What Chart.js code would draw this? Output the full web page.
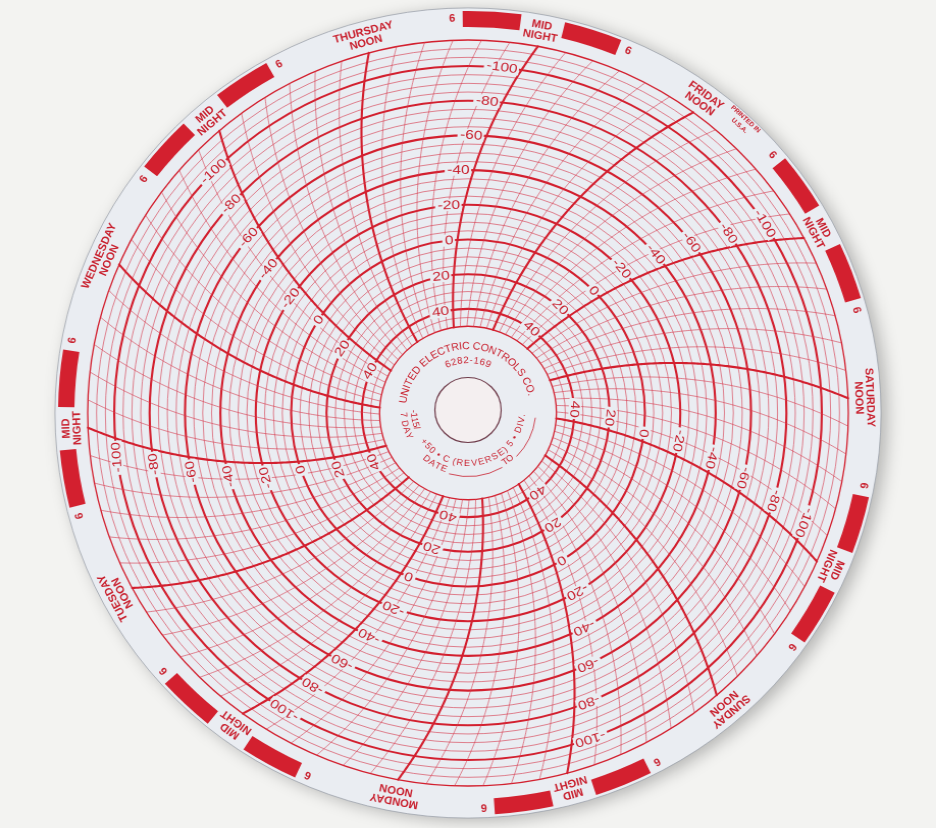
<!DOCTYPE html>
<html>
<head>
<meta charset="utf-8">
<title>UEC 7-day circular chart</title>
<script src="https://cdn.jsdelivr.net/npm/chart.js@4.4.1/dist/chart.umd.min.js"></script>
<style>
html,body{margin:0;padding:0;background:#f3f3f1;overflow:hidden;}
#chart{display:block;width:936px;height:828px;}
</style>
</head>
<body>
<canvas id="chart" width="918" height="828" style="width:936px;height:828px"></canvas>
<script>
// ---------------- data ----------------
const dayNames = ['FRIDAY', 'SATURDAY', 'SUNDAY', 'MONDAY', 'TUESDAY', 'WEDNESDAY', 'THURSDAY'];
const hoursOfDay = [0, 2, 4, 6, 8, 10, 12, 14, 16, 18, 20, 22];
const rimHourLabels = { 0: ['MID', 'NIGHT'], 6: ['6'], 12: ['NOON'], 18: ['6'] };
const boldHours = [0, 12];
const labelHour = 0;               // temperature labels run along the midnight lines
const nightHours = [18, 0, 6];     // red night band: 6 pm -> midnight -> 6 am
const tempMin = -115;
const tempMax = 50;
const tempStep = 5;
const tempMajorStep = 20;
const tempLabels = [-100, -80, -60, -40, -20, 0, 20, 40];
const hubSpan = 50;                // blank hub inside +50, in scale units
const hubTitle = 'UNITED ELECTRIC CONTROLS CO.';
const hubCode = '6282-169';
const hubRangeA = '-115/';
const hubRangeB = '+50 \u2022 C (REVERSE) 5 \u2022 DIV.';
const hubDays = '7 DAY';
const hubDate = 'DATE';
const hubTo = 'TO';
const printNote = ['PRINTED IN', 'U.S.A.'];

const timeLabels = dayNames.flatMap(d => hoursOfDay.map(h => d + ' ' + String(h).padStart(2, '0') + ':00'));

// ---------------- style ----------------
const RED = '#d3202f';
const RED_THIN = 'rgba(214, 58, 78, 0.62)';
const INK = '#c9202e';
const DISC = '#eaedf2';
const PAGE = '#f3f3f1';
const FONT = '"Liberation Sans", Arial, sans-serif';
const penRatio = 1.156;            // pen-arm pivot distance / chart radius
const D2R = Math.PI / 180;

function penOffset(scale, r) {
  const d2 = 2 * penRatio * scale.drawingArea;
  return Math.acos(scale.drawingArea / d2) - Math.acos(Math.min(1, r / d2));
}

function arcText(ctx, cx, cy, text, r, a0, a1, flip) {
  const chars = [...text];
  const ws = chars.map(ch => ctx.measureText(ch).width);
  const W = ws.reduce((a, b) => a + b, 0);
  let acc = 0;
  chars.forEach((ch, k) => {
    const t = (acc + ws[k] / 2) / W;
    acc += ws[k];
    const a = (a0 + (a1 - a0) * t) * D2R;
    ctx.save();
    ctx.translate(cx, cy);
    ctx.rotate(a);
    ctx.translate(0, -r);
    if (flip) ctx.rotate(Math.PI);
    ctx.fillText(ch, 0, 0);
    ctx.restore();
  });
}

const dialPlugin = {
  id: 'dial',
  beforeDraw(chart) {
    const ctx = chart.ctx, s = chart.scales.r;
    const cx = s.xCenter, cy = s.yCenter, R = s.drawingArea;
    const n = timeLabels.length, step = 2 * Math.PI / n;
    ctx.save();
    ctx.fillStyle = PAGE;
    ctx.fillRect(0, 0, chart.width, chart.height);
    // paper disc
    ctx.shadowColor = 'rgba(0,0,0,0.26)';
    ctx.shadowBlur = 16;
    ctx.shadowOffsetX = 6;
    ctx.shadowOffsetY = 3;
    ctx.beginPath();
    ctx.arc(cx, cy, R * 1.086, 0, 2 * Math.PI);
    ctx.fillStyle = DISC;
    ctx.fill();
    ctx.shadowColor = 'rgba(0,0,0,0)';
    ctx.lineWidth = 1;
    ctx.strokeStyle = 'rgba(150,155,165,0.7)';
    ctx.stroke();

    // night bands
    const perHour = step / (hoursOfDay[1] - hoursOfDay[0]);
    const gapSix = 1.5 * D2R, gapMid = 3.1 * D2R;
    const rOut = R * 1.078, rIn = R * 1.035;
    ctx.fillStyle = RED;
    for (let i = 0; i < n; i++) {
      if (hoursOfDay[i % hoursOfDay.length] !== nightHours[1]) continue;
      const aMid = s.getIndexAngle(i) - Math.PI / 2;
      const aStart = aMid - (24 - nightHours[0]) * perHour;
      const aEnd = aMid + nightHours[2] * perHour;
      [[aStart + gapSix, aMid - gapMid], [aMid + gapMid, aEnd - gapSix]].forEach(([a1, a2]) => {
        ctx.beginPath();
        ctx.arc(cx, cy, rOut, a1, a2);
        ctx.arc(cx, cy, rIn, a2, a1, true);
        ctx.closePath();
        ctx.fill();
      });
    }

    // rim labels
    ctx.fillStyle = INK;
    ctx.textAlign = 'center';
    ctx.textBaseline = 'middle';
    ctx.font = 'bold 11px ' + FONT;
    for (let i = 0; i < n; i++) {
      const hour = hoursOfDay[i % hoursOfDay.length];
      if (!rimHourLabels[hour]) continue;
      let lines = rimHourLabels[hour];
      if (hour === 12) lines = [dayNames[Math.floor(i / hoursOfDay.length)], 'NOON'];
      ctx.save();
      ctx.translate(cx, cy);
      ctx.rotate(s.getIndexAngle(i));
      if (lines.length === 2) {
        ctx.fillText(lines[0], 0, -R * 1.057);
        ctx.fillText(lines[1], 0, -R * 1.028);
      } else {
        ctx.fillText(lines[0], 0, -R * 1.058);
      }
      ctx.restore();
    }
    // printed note
    ctx.font = 'bold 6.5px ' + FONT;
    const noteAngle = s.getIndexAngle(6) + 6.5 * D2R;
    ctx.save();
    ctx.translate(cx, cy);
    ctx.rotate(noteAngle);
    ctx.fillText(printNote[0], 0, -R * 1.074);
    ctx.fillText(printNote[1], 0, -R * 1.05);
    ctx.restore();
    ctx.restore();
  },
  afterDraw(chart) {
    const ctx = chart.ctx, s = chart.scales.r;
    const cx = s.xCenter, cy = s.yCenter;
    const n = timeLabels.length;
    ctx.save();
    // time lines (pen arcs)
    ctx.lineCap = 'round';
    for (let i = 0; i < n; i++) {
      const hour = hoursOfDay[i % hoursOfDay.length];
      const bold = boldHours.includes(hour);
      ctx.beginPath();
      for (let v = tempMax; v >= tempMin; v -= 1) {
        const r = s.getDistanceFromCenterForValue(v);
        const p = s.getPointPosition(i, r, penOffset(s, r));
        if (v === tempMax) ctx.moveTo(p.x, p.y); else ctx.lineTo(p.x, p.y);
      }
      ctx.lineWidth = bold ? 2.1 : 1;
      ctx.strokeStyle = bold ? RED : RED_THIN;
      ctx.stroke();
    }
    // temperature labels along midnight lines
    ctx.font = '12.5px ' + FONT;
    ctx.textAlign = 'right';
    ctx.textBaseline = 'middle';
    const sx = 1.22;
    for (let i = 0; i < n; i++) {
      if (hoursOfDay[i % hoursOfDay.length] !== labelHour) continue;
      tempLabels.forEach(v => {
        const r = s.getDistanceFromCenterForValue(v);
        const p = s.getPointPosition(i, r, penOffset(s, r));
        const txt = String(v);
        ctx.save();
        ctx.translate(p.x, p.y);
        ctx.rotate(p.angle + Math.PI / 2);
        ctx.scale(sx, 1);
        const w = ctx.measureText(txt).width;
        const xr = -4 / sx;
        ctx.fillStyle = DISC;
        ctx.fillRect(xr - w - 2, -6, w + 3.2, 12);
        ctx.fillStyle = INK;
        ctx.fillText(txt, xr, 0.5);
        ctx.restore();
      });
    }
    // hub
    const hx = cx, hy = cy - 3;
    ctx.beginPath();
    ctx.arc(hx, hy, 32.5, 0, 2 * Math.PI);
    ctx.fillStyle = '#f4eff0';
    ctx.fill();
    ctx.lineWidth = 1.2;
    ctx.strokeStyle = '#6e3b4a';
    ctx.stroke();

    ctx.fillStyle = INK;
    ctx.textAlign = 'center';
    ctx.textBaseline = 'alphabetic';
    ctx.font = '10.5px ' + FONT;
    arcText(ctx, hx, hy, hubTitle, 61, -84, 77, false);
    ctx.font = '9.5px ' + FONT;
    arcText(ctx, hx, hy, hubCode, 47, -27, 27, false);
    ctx.font = '9px ' + FONT;
    arcText(ctx, hx, hy, hubRangeA, 56, 270, 249, true);
    arcText(ctx, hx, hy, hubRangeB, 56, 237, 94, true);
    arcText(ctx, hx, hy, hubDays, 66, 268, 243, true);
    arcText(ctx, hx, hy, hubDate, 66, 223, 199, true);
    arcText(ctx, hx, hy, hubTo, 66, 147, 137, true);
    ctx.strokeStyle = INK;
    ctx.lineWidth = 0.8;
    ctx.beginPath();
    ctx.arc(hx, hy, 66.5, (150 - 90) * D2R, (196 - 90) * D2R);
    ctx.stroke();
    ctx.beginPath();
    ctx.arc(hx, hy, 66.5, (97 - 90) * D2R, (134 - 90) * D2R);
    ctx.stroke();
    ctx.restore();
  }
};

new Chart(document.getElementById('chart'), {
  type: 'radar',
  data: { labels: timeLabels, datasets: [] },
  options: {
    responsive: false,
    animation: false,
    events: [],
    layout: { padding: { top: 40, bottom: 42, left: 0, right: 0 } },
    plugins: { legend: { display: false }, tooltip: { enabled: false } },
    scales: {
      r: {
        min: tempMin,
        max: tempMax + hubSpan,
        reverse: true,
        startAngle: 10.6,
        ticks: { display: false, stepSize: tempStep },
        pointLabels: { display: false },
        angleLines: { display: false },
        grid: {
          circular: true,
          color: c => {
            const v = c.tick.value;
            if (v > tempMax) return 'rgba(0,0,0,0)';
            if (v % tempMajorStep === 0 || v === tempMin || v === tempMax) return RED;
            return RED_THIN;
          },
          lineWidth: c => {
            const v = c.tick.value;
            if (v > tempMax) return 0;
            if (v % tempMajorStep === 0) return 2.1;
            if (v === tempMin || v === tempMax) return 1.3;
            return 1;
          }
        }
      }
    }
  },
  plugins: [dialPlugin]
});
</script>
</body>
</html>
